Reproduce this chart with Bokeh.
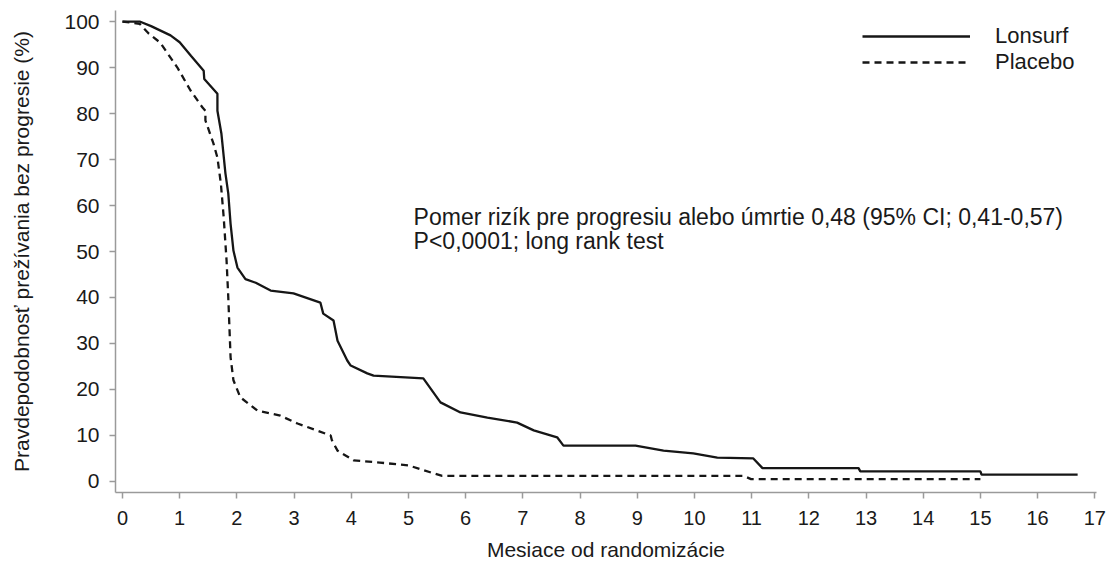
from bokeh.plotting import figure
from bokeh.models import Range1d, FixedTicker, Legend, LegendItem, Label
from bokeh.embed import file_html
from bokeh.resources import INLINE

# ---- data ----
x_ticks = list(range(0, 18))
y_ticks = list(range(0, 101, 10))

lonsurf_months = [0, 0.30, 0.50, 0.84, 1.00, 1.20, 1.42, 1.43, 1.66, 1.66,
                  1.73, 1.80, 1.85, 1.89, 1.94, 2.01, 2.15, 2.33, 2.59, 2.99,
                  3.46, 3.51, 3.69, 3.76, 3.93, 3.99, 4.28, 4.39, 5.26, 5.56,
                  5.91, 6.38, 6.90, 7.19, 7.60, 7.71, 8.97, 9.46, 9.98, 10.40,
                  11.03, 11.19, 12.87, 12.90, 15.00, 15.02, 16.70]
lonsurf_pfs = [100, 100, 99, 97, 95.5, 92.5, 89.3, 87.5, 84.3, 80.6,
               75.6, 67, 62.6, 56, 50.2, 46.5, 44, 43.2, 41.5, 40.9,
               38.9, 36.5, 35, 30.6, 26.3, 25.2, 23.5, 23, 22.4, 17.2,
               15, 13.9, 12.8, 11.1, 9.6, 7.8, 7.8, 6.7, 6.1, 5.2,
               5.0, 2.9, 2.9, 2.2, 2.2, 1.5, 1.5]

placebo_months = [0, 0.30, 0.45, 0.66, 0.96, 1.19, 1.40, 1.45, 1.45, 1.59,
                  1.66, 1.72, 1.77, 1.82, 1.85, 1.89, 1.94, 2.06, 2.36, 2.76,
                  3.06, 3.64, 3.66, 3.76, 4.04, 4.50, 5.00, 5.38, 5.59, 10.86,
                  10.99, 15.00]
placebo_pfs = [100, 99.5, 97.5, 95.4, 90, 85, 81.3, 80.6, 78.5, 73.5,
               70.4, 64.8, 57.4, 48, 40, 27, 22, 18.3, 15.4, 14.3,
               12.6, 10, 9, 6.7, 4.6, 4.1, 3.5, 2, 1.2, 1.2,
               0.5, 0.5]

series_names = ["Lonsurf", "Placebo"]
x_label = "Mesiace od randomizácie"
y_label = "Pravdepodobnosť prežívania bez progresie (%)"
note_lines = ["Pomer rizík pre progresiu alebo úmrtie 0,48 (95% CI; 0,41-0,57)",
              "P<0,0001; long rank test"]

FONT = "Liberation Sans"
TXT = "#1a1a1a"
AX = "#9a9a9a"

p = figure(width=1107, height=564, output_backend="svg", toolbar_location=None,
           x_range=Range1d(-0.122, 17.03), y_range=Range1d(-2.4, 102.4),
           min_border_left=115, min_border_right=11, min_border_top=10,
           min_border_bottom=72)
p.outline_line_color = None
p.xgrid.visible = False
p.ygrid.visible = False
p.background_fill_color = "white"
p.border_fill_color = "white"

r1 = p.line(lonsurf_months, lonsurf_pfs, line_color="#161616", line_width=2.3)
r2 = p.line(placebo_months, placebo_pfs, line_color="#161616", line_width=2.3,
            line_dash="7 5")

for ax in (p.xaxis[0], p.yaxis[0]):
    ax.axis_line_color = AX
    ax.axis_line_width = 1.5
    ax.major_tick_line_color = AX
    ax.major_tick_line_width = 1.5
    ax.major_tick_out = 6
    ax.major_tick_in = 0
    ax.minor_tick_line_color = None
    ax.major_label_text_font = FONT
    ax.major_label_text_color = TXT
    ax.axis_label_text_font = FONT
    ax.axis_label_text_color = TXT
    ax.axis_label_text_font_style = "normal"

p.xaxis.ticker = FixedTicker(ticks=x_ticks)
p.yaxis.ticker = FixedTicker(ticks=y_ticks)
p.xaxis.major_label_text_font_size = "20px"
p.yaxis.major_label_text_font_size = "21px"
p.xaxis.major_label_standoff = 12
p.yaxis.major_label_standoff = 10
p.xaxis.axis_label = x_label
p.yaxis.axis_label = y_label
p.xaxis.axis_label_text_font_size = "21px"
p.yaxis.axis_label_text_font_size = "21px"
p.xaxis.axis_label_standoff = 10
p.yaxis.axis_label_standoff = 28

legend = Legend(items=[LegendItem(label=series_names[0], renderers=[r1]),
                       LegendItem(label=series_names[1], renderers=[r2])],
                location="top_right", glyph_width=108, glyph_height=20,
                label_height=20, label_width=88, spacing=-4, label_standoff=25,
                padding=0, margin=13, border_line_color=None,
                background_fill_alpha=0,
                label_text_font=FONT, label_text_font_size="22px",
                label_text_color=TXT)
p.add_layout(legend)

for i, line in enumerate(note_lines):
    p.add_layout(Label(x=5.09, y=57.6 - 5.4 * i, text=line, text_font=FONT,
                       text_font_size="23px", text_color=TXT,
                       text_baseline="middle", text_align="left"))

open("out.html", "w").write(file_html(p, INLINE))
